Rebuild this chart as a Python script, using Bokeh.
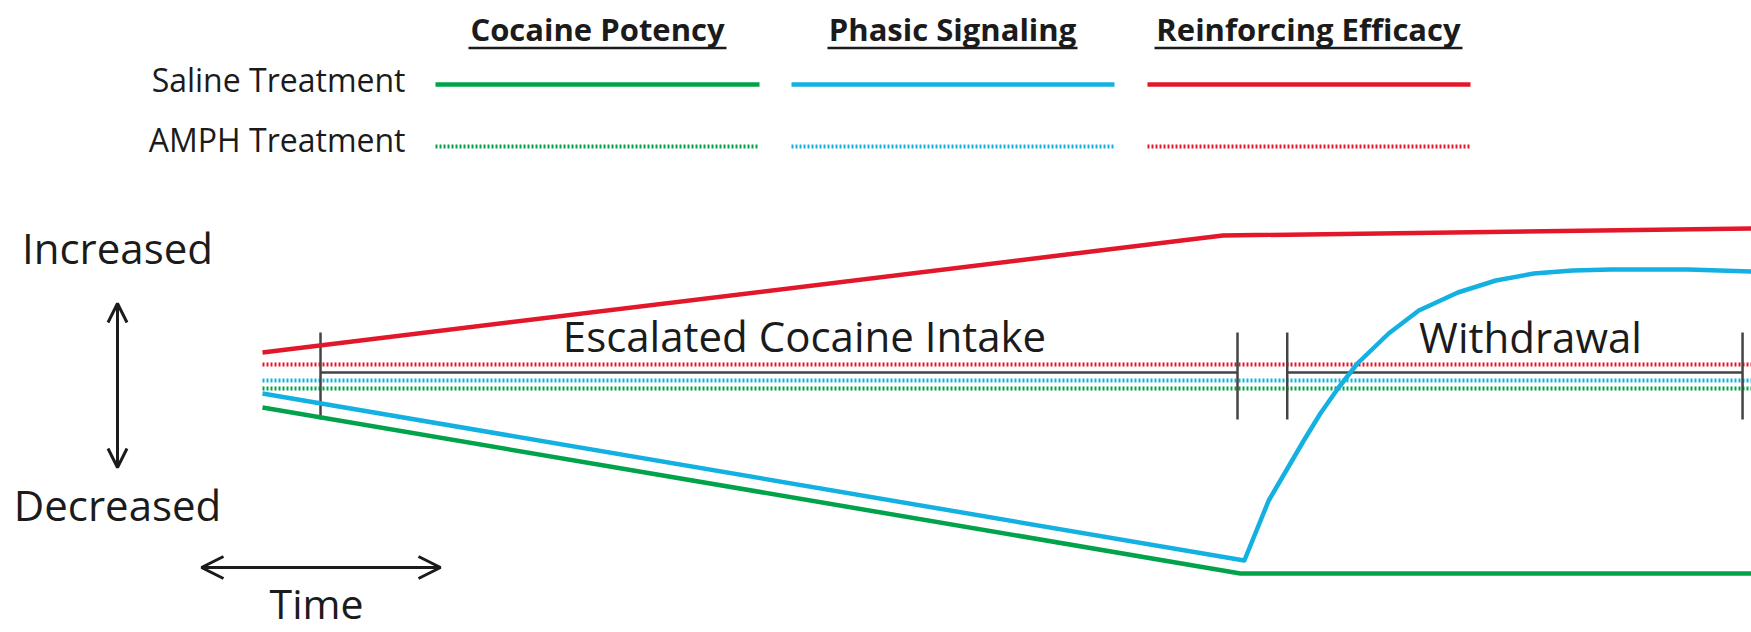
from bokeh.plotting import figure
from bokeh.models import Range1d, Arrow, OpenHead
from bokeh.core.properties import value
from bokeh.embed import file_html
from bokeh.resources import INLINE

# ---------------- data (conceptual units: time t, relative level v; 0 = baseline) -------------
measures = ["Cocaine Potency", "Phasic Signaling", "Reinforcing Efficacy"]
treatments = ["Saline Treatment", "AMPH Treatment"]
phases = ["Escalated Cocaine Intake", "Withdrawal"]

# Saline treatment (solid lines)
potency_t = [0, 100.3, 153]
potency_v = [-17.5, -100.5, -100.5]

phasic_t = [0, 100.7, 103.2, 106.8, 108.5, 110.3, 112.3, 115.5, 118.6, 122.6, 126.5,
            130.4, 134.4, 138.3, 142.2, 146.2, 153]
phasic_v = [-10.5, -94, -64, -34, -20.5, -8, 4.5, 19.5, 31, 40, 46,
            49.5, 51, 51.5, 51.5, 51.5, 50.5]

efficacy_t = [0, 98.5, 153]
efficacy_v = [10, 68.5, 72]

# AMPH treatment (flat dotted lines)
amph_t = [0, 153]
amph_potency = [-8, -8]
amph_phasic = [-4, -4]
amph_efficacy = [4, 4]

# phase boundaries (tick marks on the baseline)
phase_ticks = [5.95, 100, 105.1, 151.8]
phase_spans = [(5.95, 100), (105.1, 151.8)]

# ---------------- layout helpers (reference pixel -> data units) ----------------
def tx(X):
    return (X - 262) / 9.75

def vy(Y):
    return (372 - Y) / 2.0

def base(Y, fs):
    # place text so that its alphabetic baseline lands on pixel row Y
    return vy(Y - 0.425 * fs)

W, H = 1751, 632
FONT = value("Open Sans")
TXT = "#1b1b1b"
colors = ["#00a34a", "#13b1e2", "#e3172a"]

p = figure(width=W, height=H, output_backend="svg", toolbar_location=None,
           x_range=Range1d(tx(0), tx(W)), y_range=Range1d(vy(H), vy(0)),
           min_border=0, outline_line_color=None, background_fill_color="white",
           border_fill_color="white", x_axis_type=None, y_axis_type=None)
p.grid.visible = False

# ---------------- legend block ----------------
head_x = [597, 952, 1308]
head_half = [129, 125, 154]
p.text(x=[tx(x) for x in head_x], y=[base(42, 31)] * 3, text=measures, text_font=FONT,
       text_font_size="31px", text_font_style="bold", text_align="center",
       text_baseline="alphabetic", text_color=TXT)
p.segment(x0=[tx(x - h) for x, h in zip(head_x, head_half)], y0=[vy(47.5)] * 3,
          x1=[tx(x + h) for x, h in zip(head_x, head_half)], y1=[vy(47.5)] * 3,
          line_color=TXT, line_width=2.5)

p.text(x=[tx(405), tx(405)], y=[base(93, 32), base(153, 32)], text=treatments,
       text_font=FONT, text_font_size="32px", text_align="right",
       text_baseline="alphabetic", text_color=TXT)
leg_x0 = [435, 791, 1147]
leg_x1 = [759, 1114, 1470]
p.segment(x0=[tx(x) for x in leg_x0], y0=[vy(84)] * 3, x1=[tx(x) for x in leg_x1],
          y1=[vy(84)] * 3, line_color=colors, line_width=4.5)
p.segment(x0=[tx(x) for x in leg_x0], y0=[vy(146)] * 3, x1=[tx(x) for x in leg_x1],
          y1=[vy(146)] * 3, line_color=colors, line_width=4, line_dash="2 2")

# ---------------- y/time indicators ----------------
p.text(x=[tx(117), tx(117)], y=[base(265, 42), base(522, 42)],
       text=["Increased", "Decreased"], text_font=FONT, text_font_size="42px",
       text_align="center", text_baseline="alphabetic", text_color=TXT)
p.text(x=[tx(316)], y=[base(620, 41)], text=["Time"], text_font=FONT,
       text_font_size="41px", text_align="center", text_baseline="alphabetic",
       text_color=TXT)
p.add_layout(Arrow(start=OpenHead(size=19, line_width=3, line_color=TXT),
                   end=OpenHead(size=19, line_width=3, line_color=TXT),
                   x_start=tx(117), y_start=vy(303), x_end=tx(117), y_end=vy(467),
                   line_width=3, line_color=TXT))
p.add_layout(Arrow(start=OpenHead(size=22, line_width=3, line_color=TXT),
                   end=OpenHead(size=22, line_width=3, line_color=TXT),
                   x_start=tx(201), y_start=vy(567), x_end=tx(440), y_end=vy(567),
                   line_width=3, line_color=TXT))

# ---------------- baseline and phase ticks ----------------
p.segment(x0=[a for a, b in phase_spans], y0=[0, 0], x1=[b for a, b in phase_spans],
          y1=[0, 0], line_color="#444444", line_width=2.5)

# AMPH dotted lines
for yv, c in zip([amph_potency, amph_phasic, amph_efficacy], colors):
    p.line(amph_t, yv, line_color=c, line_width=4, line_dash="2 2")

p.segment(x0=phase_ticks, y0=[20] * 4, x1=phase_ticks, y1=[-23.5] * 4,
          line_color="#444444", line_width=2.5)

# Saline solid lines
p.line(potency_t, potency_v, line_color=colors[0], line_width=4.5, line_join="round")
p.line(phasic_t, phasic_v, line_color=colors[1], line_width=4.5, line_join="round")
p.line(efficacy_t, efficacy_v, line_color=colors[2], line_width=4.5, line_join="round")

# phase labels
p.text(x=[tx(804), tx(1530)], y=[base(353, 42), base(354, 42)], text=phases,
       text_font=FONT, text_font_size="42px", text_align="center",
       text_baseline="alphabetic", text_color=TXT)

open("out.html", "w").write(file_html(p, INLINE))
